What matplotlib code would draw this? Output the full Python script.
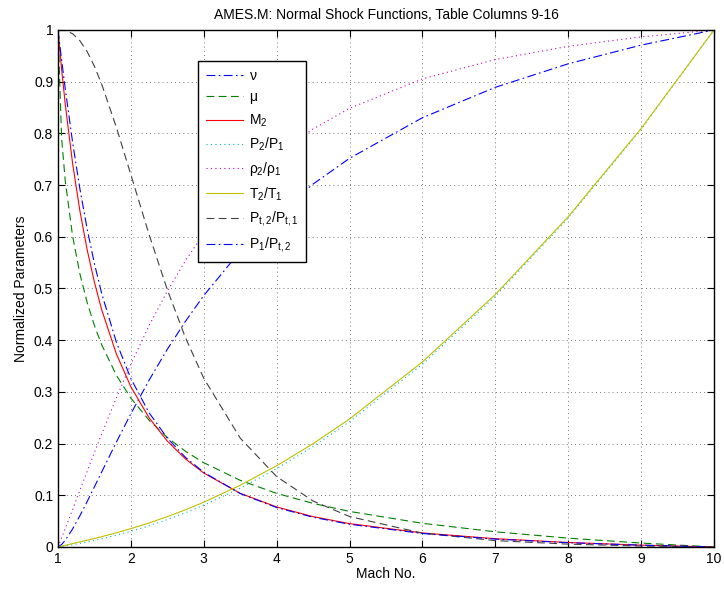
import numpy as np
import matplotlib
matplotlib.use("Agg")
from matplotlib import pyplot as plt
from matplotlib.ticker import FormatStrFormatter, MultipleLocator

plt.rcParams['font.family'] = ['Liberation Sans', 'DejaVu Sans']
plt.rcParams['mathtext.fontset'] = 'custom'
plt.rcParams['mathtext.rm'] = 'Liberation Sans'
plt.rcParams['mathtext.it'] = 'Liberation Sans'

# Mach numbers where the curves were read
mach = [1.0, 1.05, 1.1, 1.2, 1.3, 1.4, 1.5, 1.6, 1.8, 2.0, 2.25, 2.5, 2.75,
        3.0, 3.5, 4.0, 4.5, 5.0, 6.0, 7.0, 8.0, 9.0, 10.0]

# normalized parameters (0..1) at each Mach number
nu = [0.0, 0.0048, 0.0131, 0.0348, 0.0603, 0.0878, 0.1164, 0.1452, 0.2026,
      0.2578, 0.3227, 0.3824, 0.4368, 0.4863, 0.5720, 0.6429, 0.7020, 0.7518,
      0.8303, 0.8891, 0.9346, 0.9707, 1.0]
mu = [1.0, 0.7893, 0.7078, 0.6017, 0.5287, 0.4729, 0.4281, 0.3910, 0.3324,
      0.2879, 0.2451, 0.2117, 0.1850, 0.1630, 0.1289, 0.1037, 0.0843, 0.0688,
      0.0458, 0.0294, 0.0171, 0.0076, 0.0]
m2 = [1.0, 0.9235, 0.8559, 0.7423, 0.6505, 0.5750, 0.5119, 0.4586, 0.3738,
      0.3099, 0.2498, 0.2048, 0.1702, 0.1431, 0.1038, 0.0774, 0.0587, 0.0452,
      0.0271, 0.0160, 0.0087, 0.0036, 0.0]
p2_p1 = [0.0, 0.0010, 0.0021, 0.0044, 0.0070, 0.0097, 0.0126, 0.0158, 0.0226,
         0.0303, 0.0410, 0.0530, 0.0663, 0.0808, 0.1136, 0.1515, 0.1944,
         0.2424, 0.3535, 0.4848, 0.6364, 0.8081, 1.0]
rho2_rho1 = [0.0, 0.0178, 0.0359, 0.0725, 0.1094, 0.1463, 0.1829, 0.2189,
             0.2883, 0.3535, 0.4282, 0.4949, 0.5540, 0.6061, 0.6917, 0.7576,
             0.8086, 0.8485, 0.9054, 0.9428, 0.9684, 0.9866, 1.0]
t2_t1 = [0.0, 0.0017, 0.0034, 0.0066, 0.0098, 0.0131, 0.0165, 0.0200, 0.0274,
         0.0355, 0.0465, 0.0587, 0.0720, 0.0866, 0.1194, 0.1572, 0.1999,
         0.2476, 0.3580, 0.4884, 0.6389, 0.8094, 1.0]
pt2_pt1 = [1.0, 0.9999, 0.9989, 0.9928, 0.9793, 0.9581, 0.9296, 0.8949,
           0.8121, 0.7200, 0.6042, 0.4975, 0.4044, 0.3263, 0.2106, 0.1361,
           0.0889, 0.0589, 0.0267, 0.0124, 0.0055, 0.0019, 0.0]
p1_pt2 = [1.0, 0.9417, 0.8858, 0.7831, 0.6931, 0.6152, 0.5479, 0.4900,
          0.3965, 0.3257, 0.2595, 0.2105, 0.1732, 0.1444, 0.1034, 0.0763,
          0.0575, 0.0440, 0.0261, 0.0153, 0.0083, 0.0035, 0.0]

# MATLAB-like line styles
dashdot = (0, (8, 3, 1.5, 3))
dashed = (0, (7, 4))
dotted = (0, (1, 3))

series = [
    (nu, r'$\nu$', (0, 0, 1), dashdot),
    (mu, r'$\mu$', (0, 0.5, 0), dashed),
    (m2, r'M$_2$', (1, 0, 0), '-'),
    (p2_p1, r'P$_2$/P$_1$', (0, 0.75, 0.75), dotted),
    (rho2_rho1, r'$\rho_2$/$\rho_1$', (0.75, 0, 0.75), dotted),
    (t2_t1, r'T$_2$/T$_1$', (0.75, 0.75, 0), '-'),
    (pt2_pt1, r'P$_{\mathrm{t,2}}$/P$_{\mathrm{t,1}}$', (0.25, 0.25, 0.25), dashed),
    (p1_pt2, r'P$_1$/P$_{\mathrm{t,2}}$', (0, 0, 1), dashdot),
]

fig = plt.figure(figsize=(7.24, 5.90), dpi=100)
ax = fig.add_axes([0.0801, 0.0729, 0.9061, 0.8763])

for values, label, color, style in series:
    ax.plot(mach, values, linestyle=style, color=color, linewidth=0.8, label=label)

ax.set_xlim(1, 10)
ax.set_ylim(0, 1)
ax.xaxis.set_major_locator(MultipleLocator(1))
ax.yaxis.set_major_locator(MultipleLocator(0.1))
ax.yaxis.set_major_formatter(FormatStrFormatter('%g'))
ax.tick_params(direction='in', top=True, right=True, labelsize=10, length=5, width=0.8)
ax.grid(True, linestyle=(0, (1, 4)), color='k', linewidth=0.6, alpha=0.7)
for spine in ax.spines.values():
    spine.set_linewidth(1.0)

ax.set_title('AMES.M: Normal Shock Functions, Table Columns 9-16', fontsize=10, pad=8)
ax.set_xlabel('Mach No.', fontsize=10, labelpad=1)
ax.set_ylabel('Normalized Parameters', fontsize=10, labelpad=4)

leg = ax.legend(loc='upper left', bbox_to_anchor=(0.2134, 0.940), fontsize=10,
                handlelength=2.7, borderpad=0.55, labelspacing=0.5, handletextpad=0.4,
                fancybox=False, framealpha=1, edgecolor='k', borderaxespad=0)
leg.get_frame().set_linewidth(1.0)

fig.savefig('out.png', dpi=100)
